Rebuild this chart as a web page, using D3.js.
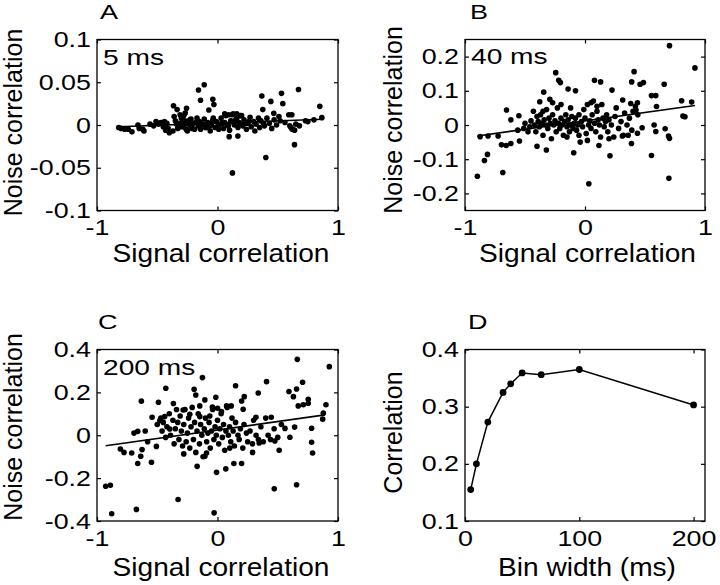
<!DOCTYPE html>
<html><head><meta charset="utf-8">
<script src="https://cdn.jsdelivr.net/npm/d3@7"></script>
<style>body{margin:0;background:#fff}svg{display:block}</style>
</head><body><svg id="c" width="720" height="585"></svg>
<script>
// ---------- DATA ----------
const pointsA = [
[-0.11,0.047],[-0.158,0.041],[-0.141,0.029],[-0.039,0.030],[-0.03,0.024],[-0.072,0.0175],[-0.365,0.0226],[-0.335,0.018],[-0.257,0.0195],[-0.268,0.014],
[0.672,0.0416],[0.531,0.037],[0.368,0.034],[0.443,0.0276],[0.542,0.025],[0.376,0.018],[0.467,0.0136],[0.849,0.0218],[0.866,0.0086],[0.592,0.012],
[0.617,0.012],[0.639,-0.023],[0.401,-0.038],[0.124,-0.056],[0.097,-0.0136],[0.169,-0.0128],
[-0.82,-0.003],[-0.80,-0.004],[-0.77,-0.005],[-0.74,-0.005],[-0.71,-0.008],[-0.66,0.0],[-0.65,-0.004],[-0.62,-0.005],[-0.61,-0.007],[-0.56,0.001],
[-0.53,-0.001],[-0.51,0.004],[-0.49,0.001],[-0.47,0.003],[-0.45,-0.002],[-0.43,-0.006],[-0.41,-0.004],[-0.40,-0.009],[-0.44,0.004],[-0.42,0.002],
[-0.37,-0.007],[-0.36,0.010],[-0.35,0.005],[-0.34,0.001],[-0.33,-0.004],[-0.32,0.002],[-0.30,0.008],[-0.30,-0.002],[-0.29,0.002],[-0.28,-0.002],
[-0.27,0.005],[-0.26,-0.005],[-0.25,-0.007],[-0.24,0.001],[-0.23,0.006],[-0.22,0.007],[-0.22,-0.003],[-0.21,-0.004],[-0.20,0.002],[-0.19,-0.005],
[-0.18,0.003],[-0.17,0.008],[-0.16,-0.001],[-0.15,0.004],[-0.14,-0.005],[-0.13,0.001],[-0.12,0.001],[-0.11,0.007],[-0.10,-0.003],[-0.09,-0.003],
[-0.08,0.003],[-0.07,-0.002],[-0.06,-0.007],[-0.05,0.0],[-0.04,0.005],[-0.035,0.008],[-0.02,-0.003],[-0.01,0.004],[0.0,-0.002],
[0.01,-0.005],[0.02,0.001],[0.03,0.008],[0.04,0.002],[0.05,-0.004],[0.06,0.003],[0.07,0.011],[0.08,0.000],[0.09,-0.001],[0.10,-0.006],
[0.11,0.005],[0.12,0.004],[0.13,0.013],[0.14,0.000],[0.15,0.006],[0.16,0.008],[0.17,-0.003],[0.18,0.003],[0.19,0.001],[0.20,0.011],
[0.21,-0.001],[0.22,0.006],[0.23,0.002],[0.24,-0.005],[0.25,0.002],[0.26,0.004],[0.27,0.009],[0.28,-0.002],[0.30,0.004],[0.31,-0.007],
[0.32,0.001],[0.34,0.008],[0.35,-0.003],[0.36,0.005],[0.38,0.002],[0.39,-0.001],[0.41,0.008],[0.43,0.002],[0.45,-0.004],[0.47,0.006],
[0.49,0.000],[0.51,0.010],[0.52,0.005],[0.56,0.003],[0.60,-0.001],[0.61,-0.003],[0.62,-0.005],[0.65,0.001],[0.64,-0.006],[0.68,-0.001],
[0.73,0.005],[0.75,0.004],[0.80,0.006],[0.06,0.013],[0.09,0.012],[0.12,0.012],[0.16,0.013],[0.19,0.011],[-0.31,0.012],[-0.28,0.011]
];
const lineAx = [-0.82, 0.87];
const lineAy = [-0.002, 0.0068];

const pointsB = [
[0.704,0.232],[0.916,0.167],[-0.244,0.153],[-0.219,0.131],[-0.205,0.124],[0.079,0.131],[0.13,0.126],[-0.141,0.105],[-0.079,0.1],[0.409,0.156],
[0.459,0.119],[0.487,0.124],[0.389,0.126],[0.66,0.119],[0.225,0.102],[-0.344,0.096],[-0.293,0.075],[-0.377,0.068],[0.554,0.086],[0.59,0.086],
[0.805,0.071],[0.889,0.067],[0.816,0.026],[0.833,0.024],[0.314,0.073],[0.381,0.063],[0.437,0.065],[0.425,0.044],[0.596,0.054],[-0.654,0.044],
[-0.551,0.027],[-0.618,0.015],[-0.874,-0.034],[-0.808,-0.032],[-0.724,-0.032],[-0.696,-0.058],[-0.618,-0.054],[-0.657,-0.06],[-0.546,-0.047],
[-0.813,-0.086],[-0.838,-0.104],[-0.897,-0.15],[-0.685,-0.139],[-0.4,-0.062],[-0.322,-0.073],[-0.094,-0.081],[0.116,-0.06],[0.208,-0.09],
[0.387,-0.054],[0.476,-0.008],[0.554,-0.089],[0.576,0.0],[0.59,-0.019],[0.668,-0.011],[0.696,-0.032],[0.704,-0.039],[0.699,-0.156],[0.032,-0.172],
[0.437,-0.024],[0.311,-0.032],[0.36,-0.03],
[-0.56,-0.015],[-0.51,-0.01],[-0.475,-0.02],[-0.46,-0.005],[-0.5,0.005],
[-0.45,0.012],[-0.43,0.04],[-0.42,0.0],[-0.41,-0.02],[-0.40,0.025],[-0.39,0.01],[-0.38,-0.005],[-0.37,0.03],[-0.36,0.005],[-0.35,-0.03],
[-0.34,0.015],[-0.33,0.0],[-0.32,0.045],[-0.31,-0.01],[-0.30,0.02],[-0.29,0.005],[-0.28,-0.04],[-0.27,0.03],[-0.26,0.0],[-0.25,0.012],
[-0.24,-0.02],[-0.23,0.05],[-0.22,0.005],[-0.21,-0.01],[-0.20,0.02],[-0.19,0.0],[-0.18,-0.03],[-0.17,0.01],[-0.16,0.03],[-0.15,-0.005],
[-0.14,0.015],[-0.13,-0.02],[-0.12,0.0],[-0.11,0.025],[-0.10,-0.01],[-0.09,0.005],[-0.08,0.02],[-0.07,-0.015],[-0.06,0.0],[-0.05,0.03],
[-0.04,-0.05],[-0.03,0.01],[-0.02,-0.005],[-0.01,0.045],[0.0,0.02],[0.01,-0.025],[0.02,0.06],[0.03,0.0],[0.04,0.012],[0.05,-0.01],
[0.06,0.03],[0.07,0.07],[0.08,0.005],[0.09,-0.02],[0.10,0.04],[0.11,0.015],[0.12,0.0],[0.13,-0.035],[0.14,0.06],[0.15,0.02],
[0.16,-0.005],[0.17,0.01],[0.18,0.03],[0.19,-0.02],[0.20,0.015],[0.22,0.0],[0.24,-0.035],[0.25,0.025],[0.26,0.05],[0.28,-0.01],
[0.30,0.01],[0.32,-0.03],[0.33,0.035],[0.35,0.0],[0.37,0.02],[0.39,-0.015],[0.40,0.04],[0.42,0.055],[0.44,0.03],
[-0.27,0.065],[-0.2,0.06],[-0.12,0.05],[0.05,0.065],[0.1,0.055],[-0.35,0.04],[-0.05,-0.03],[0.02,-0.045],[0.2,-0.04],[-0.15,-0.035]
];
const lineBx = [-0.897, 0.916];
const lineBy = [-0.032, 0.057];

const pointsC = [
[0.662,0.354],[0.928,0.32],[-0.125,0.269],[0.15,0.231],[0.407,0.25],[-0.429,0.219],[-0.194,0.214],[-0.18,0.188],[0.656,0.216],[0.706,0.247],
[0.593,0.204],[0.63,0.18],[0.338,0.197],[0.222,0.18],[0.2,0.16],[-0.014,0.177],[-0.105,0.165],[-0.632,0.159],[-0.49,0.154],[-0.366,0.148],
[-0.147,0.137],[-0.042,0.131],[0.0,0.126],[0.075,0.137],[0.114,0.137],[0.033,0.111],[-0.285,0.118],[-0.23,0.098],[-0.438,0.087],[-0.543,0.084],
[-0.479,0.069],[-0.147,0.087],[-0.064,0.09],[0.213,0.121],[0.319,0.084],[0.446,0.084],[0.753,0.168],[0.753,0.149],[0.712,0.142],[0.67,0.137],
[0.9,0.142],[0.878,0.103],[0.873,0.075],[0.781,0.033],[0.781,-0.033],[0.789,-0.083],[0.64,0.038],[0.56,0.032],[0.601,-0.009],[0.512,-0.07],
[0.476,-0.027],[0.346,-0.036],[0.291,-0.08],[0.2,-0.132],[0.136,-0.132],[0.069,-0.157],[-0.008,-0.173],[0.102,-0.06],[-0.091,-0.083],[-0.105,-0.098],
[-0.169,-0.145],[-0.28,-0.087],[-0.396,0.029],[-0.507,-0.052],[-0.626,-0.067],[-0.637,-0.098],[-0.662,-0.132],[-0.712,-0.083],[-0.776,-0.08],
[-0.806,-0.064],[-0.693,0.01],[-0.662,0.018],[-0.548,-0.126],[-0.928,-0.238],[-0.889,-0.233],[-0.878,-0.366],[-0.673,-0.346],[-0.327,-0.3],
[-0.028,-0.362],[0.471,-0.25],[0.656,-0.231],[-0.6,0.02],[-0.58,-0.03],
[-0.50,0.05],[-0.47,0.08],[-0.46,0.02],[-0.45,0.06],[-0.43,-0.01],[-0.42,0.04],[-0.40,0.1],[-0.39,0.0],[-0.37,0.07],[-0.36,-0.04],
[-0.35,0.03],[-0.34,0.12],[-0.33,0.06],[-0.32,-0.02],[-0.31,0.09],[-0.30,0.02],[-0.29,-0.05],[-0.28,0.05],[-0.27,0.12],[-0.26,-0.03],
[-0.25,0.01],[-0.24,0.08],[-0.23,-0.06],[-0.22,0.04],[-0.21,0.13],[-0.20,-0.02],[-0.19,0.06],[-0.18,-0.08],[-0.17,0.02],[-0.16,0.1],
[-0.15,-0.04],[-0.14,0.05],[-0.13,0.0],[-0.12,-0.1],[-0.11,0.03],[-0.10,0.08],[-0.09,-0.03],[-0.08,0.01],[-0.07,0.06],[-0.06,-0.06],
[-0.05,0.02],[-0.04,0.12],[-0.03,-0.02],[-0.02,0.04],[-0.01,0.0],[0.0,0.07],[0.01,-0.04],[0.02,0.03],[0.03,0.1],[0.04,-0.01],
[0.05,0.05],[0.06,-0.07],[0.07,0.02],[0.08,0.13],[0.09,0.0],[0.10,0.04],[0.11,-0.03],[0.12,0.08],[0.13,0.02],[0.14,-0.05],
[0.15,0.06],[0.17,0.0],[0.18,-0.02],[0.19,0.03],[0.21,-0.06],[0.22,0.05],[0.24,0.01],[0.25,-0.03],[0.27,0.02],[0.29,-0.04],
[0.30,0.07],[0.32,0.0],[0.34,-0.02],[0.36,0.04],[0.38,-0.03],[0.40,0.08],[0.42,0.0],[0.44,-0.02],[0.47,0.03],[0.50,-0.01],[0.53,0.05]
];
const lineCx = [-0.928, 0.892];
const lineCy = [-0.049, 0.095];

const binWidths = [5, 10, 20, 33.3, 40, 50, 66.7, 100, 200];
const corrValues = [0.155, 0.200, 0.273, 0.325, 0.340, 0.359, 0.356, 0.365, 0.303];

const ticksSignal = [-1, 0, 1];
const ticksA = [-0.1, -0.05, 0, 0.05, 0.1];
const ticksB = [-0.2, -0.1, 0, 0.1, 0.2];
const ticksC = [-0.4, -0.2, 0, 0.2, 0.4];
const ticksDx = [0, 100, 200];
const ticksDy = [0.1, 0.2, 0.3, 0.4];

// ---------- DRAWING ----------
const FONT = "'Liberation Sans', Arial, Helvetica, sans-serif";
const svg = d3.select('#c');
svg.append('rect').attr('width',720).attr('height',585).attr('fill','#fff');

function stretchText(sel, x, y, str, size, sx, anchor) {
  return sel.append('text')
    .attr('transform', `translate(${x},${y}) scale(${sx},1)`)
    .attr('font-family', FONT).attr('font-size', size)
    .attr('text-anchor', anchor || 'start').attr('fill', '#000').text(str);
}

function panel(cfg) {
  const x = d3.scaleLinear().domain(cfg.xDomain).range([cfg.left, cfg.right]);
  const y = d3.scaleLinear().domain(cfg.yDomain).range([cfg.bottom, cfg.top]);
  const g = svg.append('g');
  const fmt = d => String(d);
  const styleAxis = a => {
    a.select('.domain').remove();
    a.attr('font-family', FONT).attr('font-size', 22);
    a.selectAll('.tick line').attr('stroke-width', 1.2);
    a.selectAll('.tick text').attr('transform', 'scale(1.22,1)');
  };
  g.append('g').attr('transform', `translate(0,${cfg.bottom})`)
    .call(d3.axisBottom(x).tickValues(cfg.xTicks).tickSize(-4).tickPadding(9).tickFormat(fmt)).call(styleAxis);
  g.append('g').attr('transform', `translate(0,${cfg.top})`)
    .call(d3.axisTop(x).tickValues(cfg.xTicks).tickSize(-4).tickFormat('')).call(styleAxis);
  g.append('g').attr('transform', `translate(${cfg.left},0)`)
    .call(d3.axisLeft(y).tickValues(cfg.yTicks).tickSize(-4).tickPadding(5).tickFormat(fmt)).call(styleAxis);
  g.append('g').attr('transform', `translate(${cfg.right},0)`)
    .call(d3.axisRight(y).tickValues(cfg.yTicks).tickSize(-4).tickFormat('')).call(styleAxis);
  g.append('rect').attr('x', cfg.left).attr('y', cfg.top)
    .attr('width', cfg.right - cfg.left).attr('height', cfg.bottom - cfg.top)
    .attr('fill', 'none').attr('stroke', '#000').attr('stroke-width', 1.3);

  if (cfg.points) {
    g.append('g').selectAll('circle').data(cfg.points).join('circle')
      .attr('cx', d => x(d[0])).attr('cy', d => y(d[1])).attr('r', 2.8).attr('fill', '#000');
    g.append('path').datum(d3.zip(cfg.lineX, cfg.lineY))
      .attr('d', d3.line().x(d => x(d[0])).y(d => y(d[1])))
      .attr('fill', 'none').attr('stroke', '#000').attr('stroke-width', 1.6);
    stretchText(g, cfg.left + 6, cfg.annY, cfg.ann, 22, 1.28, 'start');
  }
  if (cfg.series) {
    const pts = d3.zip(cfg.series[0], cfg.series[1]);
    g.append('path').datum(pts)
      .attr('d', d3.line().x(d => x(d[0])).y(d => y(d[1])))
      .attr('fill', 'none').attr('stroke', '#000').attr('stroke-width', 1.5);
    g.append('g').selectAll('circle').data(pts).join('circle')
      .attr('cx', d => x(d[0])).attr('cy', d => y(d[1])).attr('r', 3.4).attr('fill', '#000');
  }
  stretchText(g, cfg.letterX, cfg.letterY, cfg.letter, 20, 1.35, 'start');
  stretchText(g, cfg.xLabelX, cfg.xLabelY, cfg.xLabel, 26, 1.08, 'middle');
  g.append('text')
    .attr('transform', `translate(${cfg.yLabelX},${cfg.yLabelY}) rotate(-90)`)
    .attr('font-family', FONT).attr('font-size', 25).attr('text-anchor', 'middle')
    .attr('fill', '#000').text(cfg.yLabel);
}

panel({left: 97, right: 338, top: 39.5, bottom: 210.5, xDomain: [-1, 1], yDomain: [-0.1, 0.1],
  xTicks: ticksSignal, yTicks: ticksA, points: pointsA, lineX: lineAx, lineY: lineAy,
  ann: '5 ms', annY: 65, letter: 'A', letterX: 100, letterY: 19,
  xLabel: 'Signal correlation', xLabelX: 221, xLabelY: 261.5,
  yLabel: 'Noise correlation', yLabelX: 21.5, yLabelY: 122.5});

panel({left: 465, right: 705, top: 39.5, bottom: 210.5, xDomain: [-1, 1], yDomain: [-0.25, 0.25],
  xTicks: ticksSignal, yTicks: ticksB, points: pointsB, lineX: lineBx, lineY: lineBy,
  ann: '40 ms', annY: 63.5, letter: 'B', letterX: 470, letterY: 19,
  xLabel: 'Signal correlation', xLabelX: 587.5, xLabelY: 262,
  yLabel: 'Noise correlation', yLabelX: 401.5, yLabelY: 120});

panel({left: 97, right: 338, top: 349.5, bottom: 521, xDomain: [-1, 1], yDomain: [-0.4, 0.4],
  xTicks: ticksSignal, yTicks: ticksC, points: pointsC, lineX: lineCx, lineY: lineCy,
  ann: '200 ms', annY: 375, letter: 'C', letterX: 98, letterY: 328.5,
  xLabel: 'Signal correlation', xLabelX: 221, xLabelY: 575.5,
  yLabel: 'Noise correlation', yLabelX: 22, yLabelY: 427});

panel({left: 465, right: 705, top: 349.5, bottom: 521, xDomain: [0, 210], yDomain: [0.1, 0.4],
  xTicks: ticksDx, yTicks: ticksDy, series: [binWidths, corrValues],
  letter: 'D', letterX: 468, letterY: 328.5,
  xLabel: 'Bin width (ms)', xLabelX: 587, xLabelY: 575.5,
  yLabel: 'Correlation', yLabelX: 401.5, yLabelY: 432.5});
</script>
</body></html>
